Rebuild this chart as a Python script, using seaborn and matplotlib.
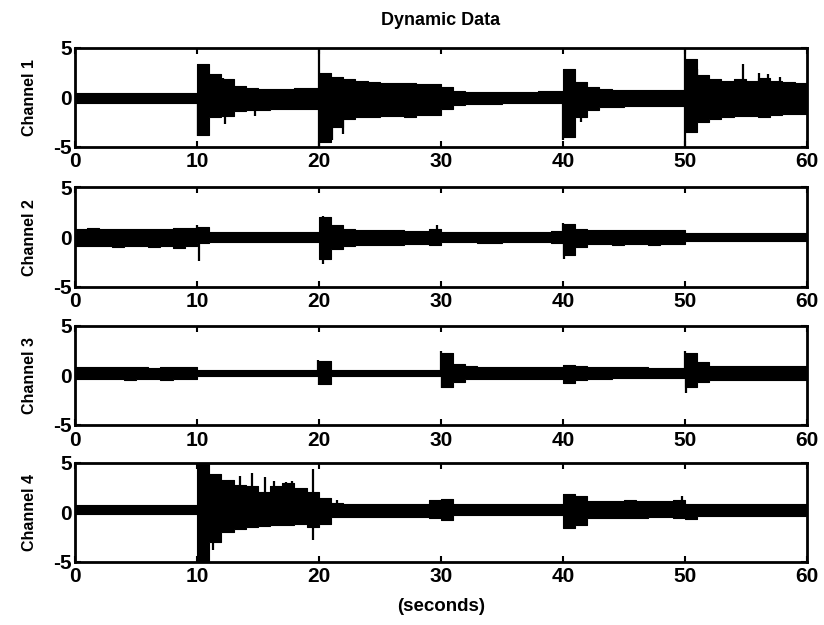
import numpy as np
import pandas as pd
import matplotlib
matplotlib.use("Agg")
import matplotlib.pyplot as plt
import seaborn as sns

# envelope of each channel, one value per second (bin starts at 0, 1, ..., 59)
seconds = np.arange(60)

ch1_hi = [0.4, 0.45, 0.4, 0.4, 0.45, 0.4, 0.4, 0.45, 0.4, 0.4,
          3.3, 2.3, 1.8, 1.1, 0.9, 0.8, 0.8, 0.8, 0.9, 0.9,
          2.4, 2.0, 1.8, 1.6, 1.5, 1.4, 1.4, 1.4, 1.3, 1.3,
          1.0, 0.6, 0.5, 0.5, 0.5, 0.5, 0.5, 0.5, 0.6, 0.6,
          2.8, 1.5, 1.0, 0.8, 0.7, 0.7, 0.7, 0.7, 0.7, 0.7,
          3.8, 2.2, 1.8, 1.6, 1.8, 1.6, 1.9, 1.6, 1.5, 1.4]
ch1_lo = [-0.6, -0.55, -0.6, -0.6, -0.55, -0.6, -0.6, -0.55, -0.6, -0.6,
          -3.8, -2.0, -1.9, -1.4, -1.3, -1.3, -1.2, -1.2, -1.2, -1.2,
          -4.5, -3.0, -2.2, -2.0, -2.0, -1.9, -1.9, -2.0, -1.8, -1.8,
          -1.2, -0.8, -0.7, -0.7, -0.7, -0.6, -0.6, -0.6, -0.6, -0.6,
          -4.0, -2.0, -1.3, -1.0, -1.0, -0.9, -0.9, -0.9, -0.9, -0.9,
          -3.5, -2.5, -2.2, -2.0, -1.9, -1.9, -2.0, -1.8, -1.7, -1.7]

ch2_hi = [0.8, 0.9, 0.8, 0.8, 0.8, 0.8, 0.8, 0.8, 0.9, 0.9,
          1.0, 0.5, 0.5, 0.5, 0.5, 0.5, 0.5, 0.5, 0.5, 0.5,
          2.0, 1.2, 0.8, 0.7, 0.7, 0.7, 0.7, 0.6, 0.6, 0.8,
          0.5, 0.5, 0.5, 0.5, 0.5, 0.5, 0.5, 0.5, 0.5, 0.6,
          1.3, 0.8, 0.7, 0.7, 0.7, 0.7, 0.7, 0.7, 0.7, 0.7,
          0.4, 0.4, 0.4, 0.4, 0.4, 0.4, 0.4, 0.4, 0.4, 0.4]
ch2_lo = [-0.9, -0.9, -0.9, -1.0, -0.9, -0.9, -1.0, -0.9, -1.1, -0.9,
          -0.6, -0.5, -0.5, -0.5, -0.5, -0.5, -0.5, -0.5, -0.5, -0.5,
          -2.2, -1.2, -0.9, -0.8, -0.8, -0.8, -0.8, -0.7, -0.7, -0.8,
          -0.5, -0.5, -0.5, -0.6, -0.6, -0.5, -0.5, -0.5, -0.5, -0.6,
          -1.8, -1.0, -0.7, -0.7, -0.8, -0.7, -0.7, -0.8, -0.7, -0.7,
          -0.4, -0.4, -0.4, -0.4, -0.4, -0.4, -0.4, -0.4, -0.4, -0.4]

ch3_hi = [0.8, 0.8, 0.8, 0.8, 0.8, 0.8, 0.7, 0.8, 0.8, 0.8,
          0.5, 0.5, 0.5, 0.5, 0.5, 0.5, 0.5, 0.5, 0.5, 0.5,
          1.4, 0.5, 0.5, 0.5, 0.5, 0.5, 0.5, 0.5, 0.5, 0.5,
          2.2, 1.1, 0.9, 0.8, 0.8, 0.8, 0.8, 0.8, 0.8, 0.8,
          1.0, 0.9, 0.8, 0.8, 0.8, 0.8, 0.8, 0.7, 0.7, 0.7,
          2.2, 1.3, 0.9, 0.9, 0.9, 0.9, 0.9, 0.9, 0.9, 0.9]
ch3_lo = [-0.4, -0.4, -0.4, -0.4, -0.5, -0.4, -0.4, -0.5, -0.4, -0.4,
          -0.05, -0.05, -0.05, -0.05, -0.05, -0.05, -0.05, -0.05, -0.05, -0.05,
          -0.9, -0.05, -0.05, -0.05, -0.05, -0.05, -0.05, -0.05, -0.05, -0.05,
          -1.2, -0.7, -0.4, -0.4, -0.4, -0.4, -0.4, -0.4, -0.4, -0.4,
          -0.8, -0.5, -0.4, -0.4, -0.3, -0.3, -0.3, -0.3, -0.3, -0.3,
          -1.2, -0.7, -0.5, -0.5, -0.5, -0.5, -0.5, -0.5, -0.5, -0.5]

ch4_hi = [0.75, 0.75, 0.75, 0.75, 0.75, 0.75, 0.75, 0.75, 0.75, 0.75,
          5.5, 3.8, 3.2, 2.7, 2.6, 2.0, 2.6, 2.9, 2.4, 2.0,
          1.4, 0.9, 0.8, 0.8, 0.8, 0.8, 0.8, 0.8, 0.8, 1.2,
          1.3, 0.8, 0.8, 0.8, 0.8, 0.8, 0.8, 0.8, 0.8, 0.8,
          1.8, 1.6, 1.1, 1.1, 1.1, 1.2, 1.1, 1.1, 1.1, 1.2,
          0.8, 0.8, 0.8, 0.8, 0.8, 0.8, 0.8, 0.8, 0.8, 0.8]
ch4_lo = [-0.15, -0.15, -0.15, -0.15, -0.15, -0.15, -0.15, -0.15, -0.15, -0.15,
          -5.5, -3.0, -2.0, -1.7, -1.5, -1.4, -1.3, -1.3, -1.2, -1.5,
          -1.2, -0.5, -0.5, -0.5, -0.5, -0.5, -0.5, -0.5, -0.5, -0.6,
          -0.8, -0.3, -0.3, -0.3, -0.3, -0.3, -0.3, -0.3, -0.3, -0.3,
          -1.6, -1.3, -0.6, -0.6, -0.6, -0.6, -0.6, -0.5, -0.5, -0.6,
          -0.7, -0.4, -0.4, -0.4, -0.4, -0.4, -0.4, -0.4, -0.4, -0.4]

# isolated spikes: (time in s, peak value)
ch1_spikes = [(10.05, -3.9), (12.1, 1.9), (12.3, -2.7), (14.8, -1.9), (20.05, 5.5), (20.05, -5.5),
              (20.5, -4.5), (21.1, -4.3), (22.0, -3.7), (40.05, -4.3), (41.5, -2.5),
              (50.05, 5.5), (50.05, -5.5), (51.0, 2.8), (54.75, 3.3), (56.1, 2.4), (56.8, 2.3), (57.8, 2.0)]
ch2_spikes = [(10.0, 1.2), (10.2, -2.4), (20.3, 2.1), (20.3, -2.7), (29.7, 1.2), (40.0, 1.4), (40.1, -2.2)]
ch3_spikes = [(19.9, 1.5), (20.0, -1.0), (30.0, 2.4), (30.1, -1.3), (50.0, 2.4), (50.1, -1.8)]
ch4_spikes = [(11.3, -3.8), (13.5, 3.6), (14.5, 3.9), (15.6, 3.5), (16.3, 3.1), (17.3, 3.0),
              (17.8, 3.1), (19.5, 4.3), (19.5, -2.8), (21.5, 1.2), (49.8, 1.6)]

channels = ["Channel 1", "Channel 2", "Channel 3", "Channel 4"]
his = [ch1_hi, ch2_hi, ch3_hi, ch4_hi]
los = [ch1_lo, ch2_lo, ch3_lo, ch4_lo]
spikes = [ch1_spikes, ch2_spikes, ch3_spikes, ch4_spikes]
x_ticks = [0, 10, 20, 30, 40, 50, 60]
y_ticks = [-5, 0, 5]

sns.set_style("ticks", rc={"xtick.direction": "in", "ytick.direction": "in"})
plt.rcParams["font.family"] = ["Liberation Sans", "DejaVu Sans"]
plt.rcParams["font.weight"] = "bold"
plt.rcParams["axes.unicode_minus"] = False
plt.rcParams["text.color"] = "black"
plt.rcParams["axes.labelcolor"] = "black"
plt.rcParams["xtick.color"] = "black"
plt.rcParams["ytick.color"] = "black"

fig = plt.figure(figsize=(8.24, 6.25), dpi=100)
bottoms = [0.765, 0.541, 0.32, 0.101]

for name, hi, lo, sp, b in zip(channels, his, los, spikes, bottoms):
    ax = fig.add_axes([0.091, b, 0.888, 0.159])
    x = np.append(seconds, 60)
    hi_s = np.append(hi, hi[-1])
    lo_s = np.append(lo, lo[-1])
    df = pd.DataFrame({"t": x, "hi": hi_s, "lo": lo_s})
    ax.fill_between(df["t"], df["lo"], df["hi"], step="post", color="black", lw=0)
    sns.lineplot(data=df, x="t", y="hi", drawstyle="steps-post", color="black", lw=0.8, ax=ax)
    sns.lineplot(data=df, x="t", y="lo", drawstyle="steps-post", color="black", lw=0.8, ax=ax)
    sp_t = [s[0] for s in sp]
    sp_v = [s[1] for s in sp]
    ax.vlines(sp_t, 0, sp_v, color="black", lw=1.6)
    ax.set_xlim(0, 60)
    ax.set_ylim(-5, 5)
    ax.set_xticks(x_ticks)
    ax.set_yticks(y_ticks)
    ax.tick_params(axis="x", labelsize=15, length=4, width=1.5, pad=4, top=True)
    ax.tick_params(axis="y", labelsize=15, length=4, width=1.5, pad=2, right=True)
    ax.set_xlabel("")
    ax.set_ylabel(name, fontsize=11.5, fontweight="bold", labelpad=12)
    for s in ax.spines.values():
        s.set_linewidth(2)
        s.set_color("black")
    if name == "Channel 1":
        ax.set_title("Dynamic Data", fontsize=13, fontweight="bold", pad=16)
    if name == "Channel 4":
        ax.set_xlabel("(seconds)", fontsize=13.5, fontweight="bold", labelpad=8)

fig.savefig("out.png", dpi=100)
